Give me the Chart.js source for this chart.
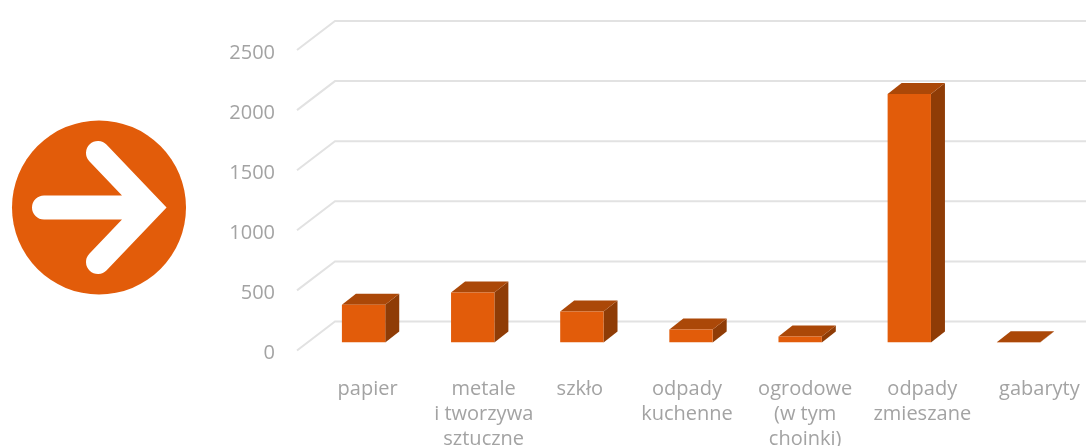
<!DOCTYPE html>
<html>
<head>
<meta charset="utf-8">
<style>
  html, body { margin: 0; padding: 0; background: #fff; }
  canvas { display: block; filter: blur(0.5px); }
</style>
<script src="https://cdn.jsdelivr.net/npm/chart.js@4"></script>
</head>
<body>
<canvas id="wykres" width="1086" height="446"></canvas>
<script>
const kategorie = ['papier', ['metale', 'i tworzywa', 'sztuczne'], 'szkło', ['odpady', 'kuchenne'], ['ogrodowe', '(w tym', 'choinki)'], ['odpady', 'zmieszane'], 'gabaryty'];
const wartosci = [315, 415, 258, 108, 50, 2067, 3];
const etykietyY = [0, 500, 1000, 1500, 2000, 2500];

// the text boxes in the original are not centred under their bars
const przesuniecieEtykiet = [4, 11, -2, -4, 5, 13, 21];

// 3D look: bar depth and where the grid "floor" lines go
const glebokosc = { dx: 14, dy: -11 };
const siatka = { xPrzod: 297, xTyl: 335, yPrzod: 8, yTyl: -21 };

const trojwymiar = {
  id: 'trojwymiar',
  beforeDraw(chart) {
    // nudge x labels, tick layout stays with the library
    const x = chart.scales.x;
    x.getLabelItems(chart.chartArea).forEach(function (item, i) {
      item.options.translation[0] = x.getPixelForTick(i) + przesuniecieEtykiet[i];
    });

    const ctx = chart.ctx;
    ctx.save();

    // arrow icon on the left
    ctx.fillStyle = '#e25c0a';
    ctx.beginPath();
    ctx.arc(99, 207.5, 87, 0, Math.PI * 2);
    ctx.fill();
    ctx.strokeStyle = '#fff';
    ctx.lineWidth = 24;
    ctx.lineCap = 'round';
    ctx.lineJoin = 'miter';
    ctx.beginPath();
    ctx.moveTo(44, 207.5);
    ctx.lineTo(145, 207.5);
    ctx.moveTo(98, 153);
    ctx.lineTo(150, 207.5);
    ctx.lineTo(98, 262);
    ctx.stroke();

    // grid lines bent into the back wall
    const y = chart.scales.y;
    ctx.strokeStyle = '#e2e2e2';
    ctx.lineWidth = 2;
    ctx.lineCap = 'butt';
    y.ticks.forEach(function (t) {
      const py = y.getPixelForValue(t.value);
      ctx.beginPath();
      ctx.moveTo(siatka.xPrzod, py + siatka.yPrzod);
      ctx.lineTo(siatka.xTyl, py + siatka.yTyl);
      ctx.lineTo(chart.width, py + siatka.yTyl);
      ctx.stroke();
    });
    ctx.restore();
  },
  beforeDatasetsDraw(chart) {
    const ctx = chart.ctx;
    const d = glebokosc;
    ctx.save();
    chart.getDatasetMeta(0).data.forEach(function (bar) {
      const l = bar.x - bar.width / 2;
      const r = bar.x + bar.width / 2;
      // side
      ctx.fillStyle = '#8f3c06';
      ctx.beginPath();
      ctx.moveTo(r, bar.y);
      ctx.lineTo(r + d.dx, bar.y + d.dy);
      ctx.lineTo(r + d.dx, bar.base + d.dy);
      ctx.lineTo(r, bar.base);
      ctx.closePath();
      ctx.fill();
      // top
      ctx.fillStyle = '#ab4808';
      ctx.beginPath();
      ctx.moveTo(l, bar.y);
      ctx.lineTo(l + d.dx, bar.y + d.dy);
      ctx.lineTo(r + d.dx, bar.y + d.dy);
      ctx.lineTo(r, bar.y);
      ctx.closePath();
      ctx.fill();
    });
    ctx.restore();
  }
};

new Chart(document.getElementById('wykres'), {
  type: 'bar',
  data: {
    labels: kategorie,
    datasets: [{
      data: wartosci,
      backgroundColor: '#e25c0a',
      barPercentage: 0.397,
      categoryPercentage: 1
    }]
  },
  plugins: [trojwymiar],
  options: {
    responsive: false,
    animation: false,
    layout: { padding: { top: 42, right: 13, left: 0, bottom: 0 } },
    plugins: { legend: { display: false }, tooltip: { enabled: false } },
    scales: {
      x: {
        border: { display: false },
        grid: { display: false, drawTicks: false },
        ticks: {
          autoSkip: false,
          maxRotation: 0,
          minRotation: 0,
          padding: 34,
          color: '#a3a3a3',
          font: { family: 'Open Sans', size: 20, lineHeight: 1.25 }
        },
        afterFit(scale) {
          scale.height = 103.5;
          scale.paddingLeft = 0;
          scale.paddingRight = 0;
        }
      },
      y: {
        min: 0,
        max: 2500,
        afterBuildTicks(scale) {
          scale.ticks = etykietyY.map(function (v) { return { value: v }; });
        },
        border: { display: false },
        grid: { display: false, drawTicks: false },
        ticks: {
          padding: 34,
          labelOffset: 11,
          color: '#a3a3a3',
          font: { family: 'Open Sans', size: 20 },
          callback(v) { return String(v); }
        },
        afterFit(scale) {
          scale.width = 309;
          scale.paddingTop = 0;
          scale.paddingBottom = 0;
        }
      }
    }
  }
});
</script>
</body>
</html>
